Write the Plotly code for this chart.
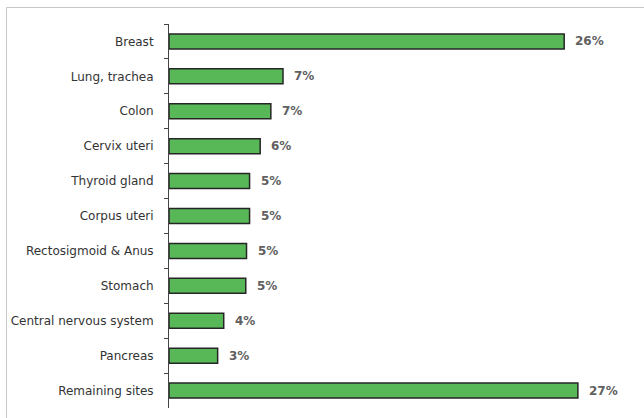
import plotly.graph_objects as go

categories = ["Breast", "Lung, trachea", "Colon", "Cervix uteri", "Thyroid gland",
              "Corpus uteri", "Rectosigmoid & Anus", "Stomach",
              "Central nervous system", "Pancreas", "Remaining sites"]
values = [26.0, 7.5, 6.7, 6.0, 5.3, 5.3, 5.1, 5.05, 3.6, 3.2, 26.9]
value_labels = ["26%", "7%", "7%", "6%", "5%", "5%", "5%", "5%", "4%", "3%", "27%"]

W, H = 644, 418
L, R, T, B = 169, 19, 24, 10
pw, ph = W - L - R, H - T - B

fig = go.Figure(go.Bar(
    x=values, y=categories, orientation="h",
    marker=dict(color="#58b858", line=dict(color="#262626", width=1.5)),
    hoverinfo="skip",
))

for c, v, t in zip(categories, values, value_labels):
    fig.add_annotation(x=v, y=c, text="<b>" + t + "</b>", showarrow=False, xanchor="left",
                       xshift=9, font=dict(family="DejaVu Sans", size=12, color="#606060"))

# light frame (top and left edges)
def px(xp):
    return (xp - L) / pw
def py(yp):
    return (H - B - yp) / ph

fig.add_shape(type="line", xref="paper", yref="paper", x0=px(6.5), x1=px(644),
              y0=py(7.5), y1=py(7.5), line=dict(color="#c8c8c8", width=1))
fig.add_shape(type="line", xref="paper", yref="paper", x0=px(6.5), x1=px(6.5),
              y0=py(7.5), y1=py(420), line=dict(color="#c8c8c8", width=1))

fig.update_layout(
    width=W, height=H,
    margin=dict(l=L, r=R, t=T, b=B),
    paper_bgcolor="white", plot_bgcolor="white",
    bargap=0.57, showlegend=False,
    font=dict(family="DejaVu Sans", size=12, color="#333333"),
)
fig.update_xaxes(range=[0, 30], visible=False)
fig.update_yaxes(
    autorange="reversed", type="category",
    showline=True, linecolor="#444444", linewidth=1,
    ticks="outside", ticklen=4, tickcolor="#444444", tickson="boundaries",
    showgrid=False, zeroline=False, ticklabelstandoff=12,
    tickfont=dict(family="DejaVu Sans", size=12, color="#333333"),
)

fig.write_html("out.html", config={"displayModeBar": False},
               post_script="document.body.style.margin='0px';")
